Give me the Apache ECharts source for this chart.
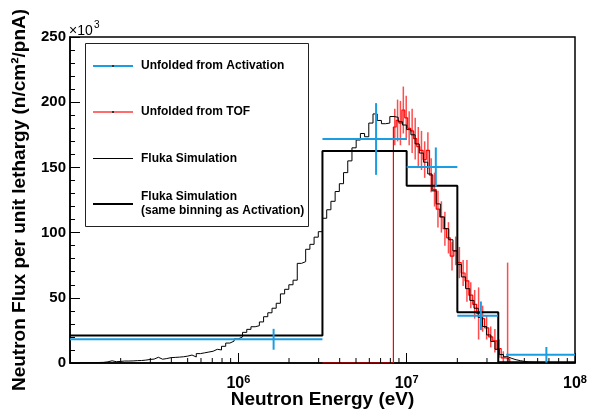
<!DOCTYPE html>
<html>
<head>
<meta charset="utf-8">
<script src="https://cdn.jsdelivr.net/npm/echarts@6/dist/echarts.min.js"></script>
<style>
html, body { margin: 0; padding: 0; background: #fff; }
#chart { width: 591px; height: 411px; }
</style>
</head>
<body>
<div id="chart"></div>
<script>
// ---- Fluka simulation, fine binning (40 log bins per decade from 1e5 eV), flux in 10^3 n/cm2/pnA
const flukaFineStart = 1e5;
const flukaFineBinsPerDecade = 40;
const flukaFine = [
  0.1, 0.1, 0.2, 0.2, 0.3, 0.3, 0.4, 0.5, 0.9, 1.7,
  1.0, 1.2, 1.5, 1.5, 1.6, 1.8, 1.9, 2.2, 2.7, 3.0,
  4.4, 2.9, 3.4, 4.1, 4.3, 4.5, 4.8, 5.3, 6.1, 4.6,
  7.2, 7.8, 8.4, 9.0, 10.5, 10.0, 12.8, 15.3, 16.8, 18.5,
  20.0, 23.5, 25.8, 27.8, 28.6, 31.5, 35.5, 38.5, 42.0, 45.8,
  53.0, 56.5, 60.0, 63.5, 76.4, 77.7, 87.2, 91.0, 96.5, 100.7,
  111.0, 117.5, 124.0, 131.5, 137.5, 146.0, 155.0, 165.0, 171.0, 176.0,
  173.5, 184.0, 191.0, 186.0, 183.5, 184.0, 189.0, 188.4, 185.0, 182.5,
  179.0, 175.0, 168.0, 161.0, 154.0, 145.0, 132.0, 122.0, 112.0, 103.0,
  94.5, 86.0, 75.5, 66.0, 57.0, 48.0, 42.0, 35.0, 28.0, 21.5,
  16.5, 10.5, 6.5, 4.8, 3.5, 2.5, 1.8, 1.2, 0.8, 0.6,
  0.5, 0.4, 0.4, 0.3, 0.3, 0.2, 0.2, 0.2, 0.1, 0.1
];

// ---- Fluka simulation rebinned to the activation bins
const rebinEdges = [1e5, 3.16e6, 1e7, 2e7, 3.5e7, 1e8];
const rebinFlux = [21.0, 162.5, 136.0, 39.0, 0.6];

// ---- Spectrum unfolded from activation
const actEnergy = [1.62e6, 6.58e6, 1.49e7, 2.76e7, 6.76e7];
const actLow = [1e5, 3.16e6, 1e7, 2e7, 3.9e7];
const actHigh = [3.16e6, 1e7, 2e7, 3.48e7, 1e8];
const actFlux = [18.2, 171.8, 150.3, 36.2, 6.3];
const actErr = [8.0, 27.5, 15.0, 11.0, 6.0];

// ---- Spectrum unfolded from time of flight
const tofRange = [3.16e6, 1e8];
const tofEdges = [
  8.34e6, 8.66e6, 9.00e6, 9.37e6, 9.74e6, 1.014e7, 1.056e7, 1.100e7, 1.148e7, 1.198e7,
  1.252e7, 1.307e7, 1.367e7, 1.430e7, 1.499e7, 1.570e7, 1.647e7, 1.728e7, 1.815e7, 1.906e7,
  2.005e7, 2.109e7, 2.222e7, 2.340e7, 2.469e7, 2.603e7, 2.749e7, 2.903e7, 3.071e7, 3.248e7,
  3.440e7, 3.642e7, 3.863e7, 4.097e7
];
const tofFlux = [
  181, 186, 184, 194, 188, 180, 178, 172, 166, 163,
  156, 163, 144, 133, 118, 112, 103, 96, 82, 86,
  77, 69, 63, 52, 45, 38, 34, 27, 20, 17,
  11, 4, 3
];
const tofErr = [
  14, 16, 17, 18, 17, 13, 17, 16, 15, 15,
  14, 14, 13, 13, 14, 12, 13, 12, 11, 11,
  12, 10, 16, 10, 11, 20, 10, 9, 8, 9,
  7, 5, 74
];

// ---- Axis ticks
const xMinorTicks = [
  2e5, 3e5, 4e5, 5e5, 6e5, 7e5, 8e5, 9e5,
  2e6, 3e6, 4e6, 5e6, 6e6, 7e6, 8e6, 9e6,
  2e7, 3e7, 4e7, 5e7, 6e7, 7e7, 8e7, 9e7
];

const FONT = '"Liberation Sans", Arial, Helvetica, sans-serif';
const BLUE = '#1b9de2';
const RED = '#ff0000';

function stepPoints(edges, vals) {
  const pts = [];
  for (let i = 0; i < vals.length; i++) {
    pts.push([edges[i], vals[i]]);
    pts.push([edges[i + 1], vals[i]]);
  }
  return pts;
}

const flukaEdges = [];
for (let i = 0; i <= flukaFine.length; i++) {
  flukaEdges.push(flukaFineStart * Math.pow(10, i / flukaFineBinsPerDecade));
}

const tofPoints = [[tofRange[0], 0], [tofEdges[0], 0]]
  .concat(stepPoints(tofEdges, tofFlux))
  .concat([[tofEdges[tofEdges.length - 1], 0], [tofRange[1], 0]]);

const tofBars = tofFlux.map((v, i) => [Math.sqrt(tofEdges[i] * tofEdges[i + 1]), v, tofErr[i]]);
const actBars = actFlux.map((v, i) => [actEnergy[i], v, actErr[i], actLow[i], actHigh[i]]);

const chart = echarts.init(document.getElementById('chart'), null, { renderer: 'canvas' });

const lineSeries = (data, color, width, z) => ({
  type: 'line', data: data, showSymbol: false, symbol: 'none',
  lineStyle: { color: color, width: width }, z: z, clip: true, silent: true,
  animation: false
});

const legendItems = [
  { y: 66, color: BLUE, width: 2, text: 'Unfolded from Activation', mark: true },
  { y: 112, color: '#ff3b3b', width: 1.5, text: 'Unfolded from TOF', mark: true },
  { y: 158.5, color: '#000', width: 1, text: 'Fluka Simulation', mark: false },
  { y: 204, color: '#000', width: 2, text: 'Fluka Simulation\n(same binning as Activation)', mark: false }
];

const graphics = [
  { type: 'rect', shape: { x: 85.5, y: 43.5, width: 223, height: 183 },
    style: { fill: '#fff', stroke: '#222', lineWidth: 1 }, z: 100 },
  { type: 'text', x: 69, y: 31,
    style: { text: '×10', font: '14px ' + FONT, fill: '#000', verticalAlign: 'middle', align: 'left' }, z: 100 },
  { type: 'text', x: 94, y: 25,
    style: { text: '3', font: '10px ' + FONT, fill: '#000', verticalAlign: 'middle', align: 'left' }, z: 100 }
];
legendItems.forEach(it => {
  graphics.push({ type: 'line', shape: { x1: 93, y1: it.y, x2: 133, y2: it.y },
    style: { stroke: it.color, lineWidth: it.width }, z: 101 });
  if (it.mark) {
    graphics.push({ type: 'rect', shape: { x: 112, y: it.y - 1, width: 2, height: 2 },
      style: { fill: '#333' }, z: 102 });
  }
  graphics.push({ type: 'text', x: 141, y: it.y,
    style: { text: it.text, font: 'bold 12px ' + FONT, fill: '#000',
      verticalAlign: 'middle', align: 'left', lineHeight: 14 }, z: 101 });
});

chart.setOption({
  animation: false,
  backgroundColor: '#fff',
  grid: {
    left: 70, right: 16, top: 37, bottom: 48,
    containLabel: false, outerBoundsMode: 'none',
    show: true, borderColor: '#000', borderWidth: 1.5, backgroundColor: 'transparent'
  },
  xAxis: {
    type: 'log', logBase: 10, min: 1e5, max: 1e8, splitNumber: 3,
    axisLine: { onZero: false, lineStyle: { color: '#000', width: 1.5 } },
    axisTick: { inside: true, length: 10, lineStyle: { color: '#000' } },
    splitLine: { show: false },
    axisLabel: {
      margin: 11, showMaxLabel: true, showMinLabel: true,
      formatter: function (value) {
        const p = Math.round(Math.log10(value));
        if (p === 5) return '';
        return '{b|10}{s|' + p + '}';
      },
      rich: {
        b: { fontSize: 16, fontWeight: 'bold', fontFamily: FONT, color: '#000', lineHeight: 20 },
        s: { fontSize: 11, fontWeight: 'bold', fontFamily: FONT, color: '#000', lineHeight: 11, verticalAlign: 'top' }
      }
    },
    name: 'Neutron Energy (eV)', nameLocation: 'middle', nameGap: 27, nameMoveOverlap: false,
    nameTextStyle: { fontSize: 19, fontWeight: 'bold', fontFamily: FONT, color: '#000' }
  },
  yAxis: {
    type: 'value', min: 0, max: 250, interval: 50,
    axisLine: { show: true, lineStyle: { color: '#000', width: 1.5 } },
    axisTick: { inside: true, length: 10, lineStyle: { color: '#000' } },
    minorTick: { show: true, splitNumber: 5, length: 5, lineStyle: { color: '#000' } },
    splitLine: { show: false },
    axisLabel: { fontSize: 15, fontWeight: 'bold', fontFamily: FONT, color: '#000', margin: 4 },
    name: 'Neutron Flux per unit lethargy (n/cm²/pnA)', nameLocation: 'middle', nameGap: 41,
    nameRotate: 90, nameMoveOverlap: false,
    nameTextStyle: { fontSize: 19, fontWeight: 'bold', fontFamily: FONT, color: '#000' }
  },
  series: [
    Object.assign(lineSeries(tofPoints, RED, 1.2, 2), { name: 'Unfolded from TOF' }),
    {
      name: 'TOF errors', type: 'custom', data: tofBars, z: 2, clip: true, silent: true,
      renderItem: function (params, api) {
        const x = api.value(0), y = api.value(1), e = api.value(2);
        const a = api.coord([x, y + e]);
        const b = api.coord([x, Math.max(y - e, 0)]);
        return { type: 'line', shape: { x1: a[0], y1: a[1], x2: b[0], y2: b[1] },
          style: { stroke: 'rgba(255,0,0,0.7)', lineWidth: 1.5 } };
      }
    },
    Object.assign(lineSeries(stepPoints(flukaEdges, flukaFine), '#000', 1, 3), { name: 'Fluka Simulation' }),
    Object.assign(lineSeries(stepPoints(rebinEdges, rebinFlux), '#000', 2, 4), { name: 'Fluka Simulation (same binning as Activation)' }),
    {
      name: 'Unfolded from Activation', type: 'custom', data: actBars, z: 5, clip: true, silent: true,
      renderItem: function (params, api) {
        const x = api.value(0), y = api.value(1), e = api.value(2);
        const lo = api.value(3), hi = api.value(4);
        const t = api.coord([x, y + e]);
        const b = api.coord([x, Math.max(y - e, 0)]);
        const l = api.coord([lo, y]);
        const r = api.coord([hi, y]);
        return { type: 'group', children: [
          { type: 'line', shape: { x1: l[0], y1: l[1], x2: r[0], y2: r[1] }, style: { stroke: BLUE, lineWidth: 2 } },
          { type: 'line', shape: { x1: t[0], y1: t[1], x2: b[0], y2: b[1] }, style: { stroke: BLUE, lineWidth: 2 } }
        ] };
      }
    },
    {
      name: 'minor ticks', type: 'custom', data: xMinorTicks.map(v => [v, 0]), z: 6, silent: true,
      renderItem: function (params, api) {
        const p = api.coord([api.value(0), 0]);
        return { type: 'line', shape: { x1: p[0], y1: p[1], x2: p[0], y2: p[1] - 5 },
          style: { stroke: '#000', lineWidth: 1 } };
      }
    }
  ],
  graphic: graphics
});
</script>
</body>
</html>
